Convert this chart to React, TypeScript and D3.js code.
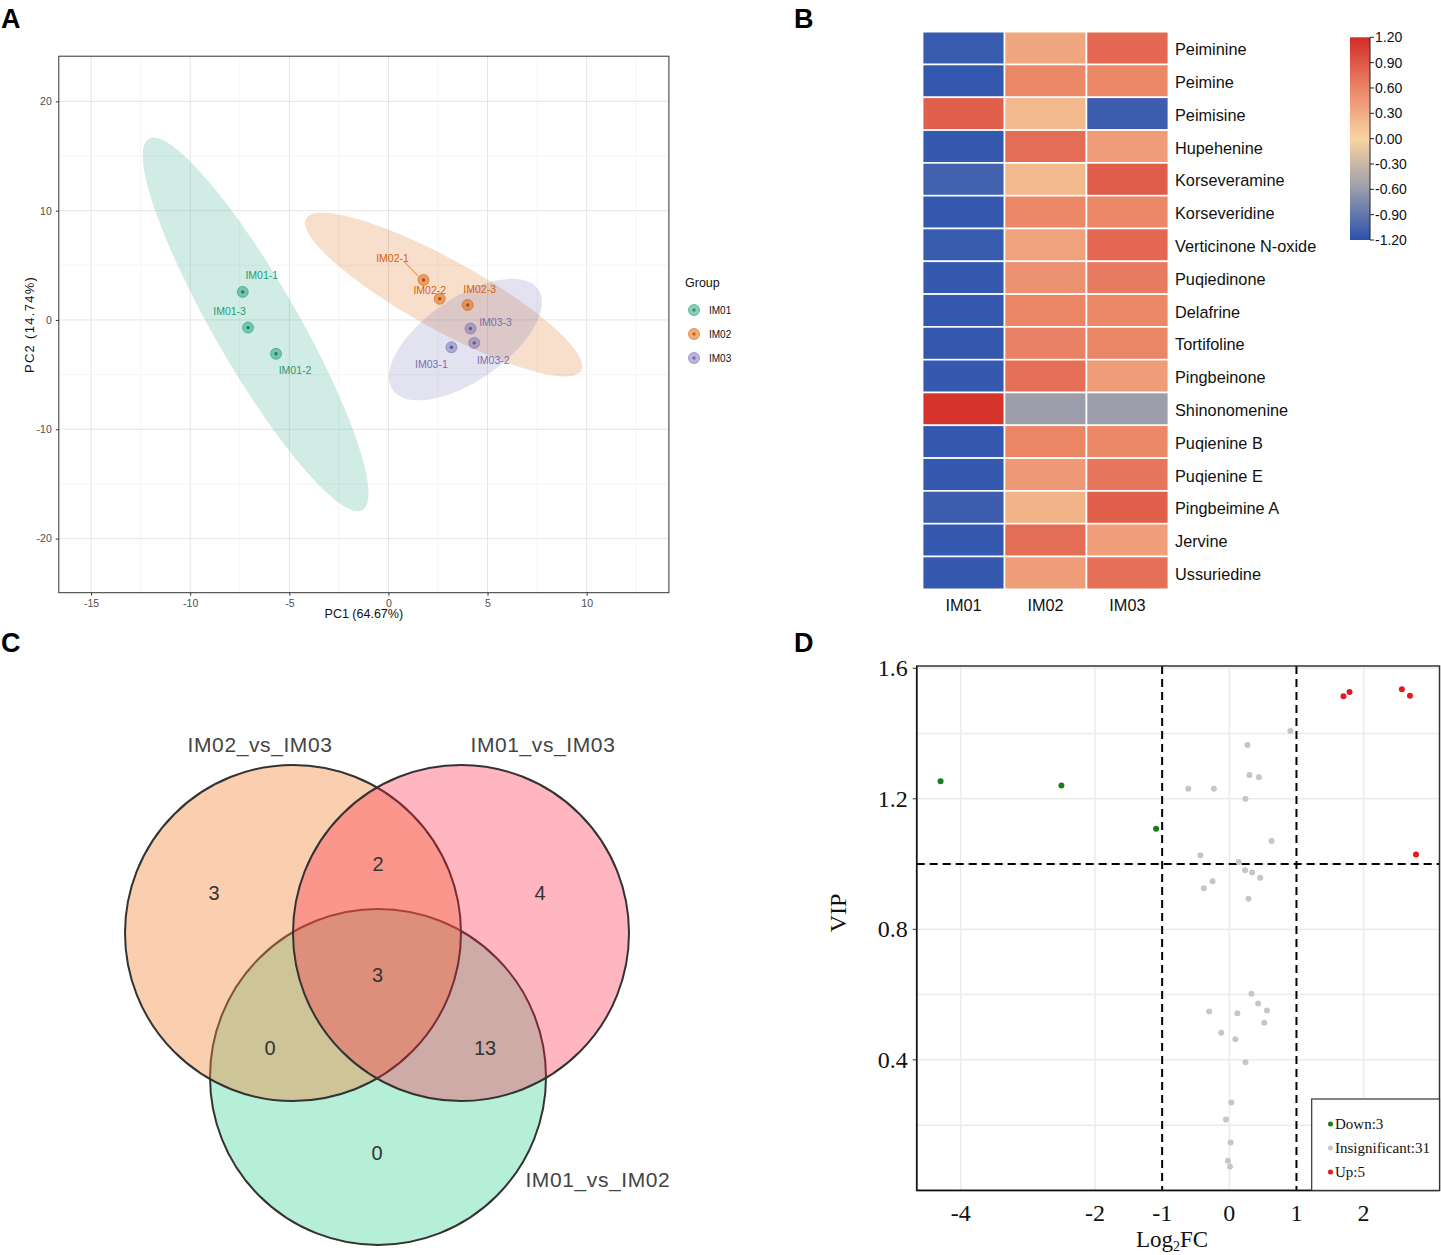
import * as d3 from 'd3';
import { useEffect, useRef } from 'react';

type G = d3.Selection<SVGGElement, unknown, null, undefined>;

const W = 1441;
const H = 1255;

// ---------- A: PCA score plot ----------
const pcaSamples = ['IM01-1', 'IM01-2', 'IM01-3', 'IM02-1', 'IM02-2', 'IM02-3', 'IM03-1', 'IM03-2', 'IM03-3'];
const pcaGroup = ['IM01', 'IM01', 'IM01', 'IM02', 'IM02', 'IM02', 'IM03', 'IM03', 'IM03'];
const pc1 = [-7.35, -5.67, -7.08, 1.77, 2.59, 4.0, 3.18, 4.33, 4.14];
const pc2 = [2.57, -3.09, -0.7, 3.66, 1.94, 1.37, -2.5, -2.1, -0.78];
const groups = ['IM01', 'IM02', 'IM03'];
const groupColors = ['#1b9e77', '#d95f02', '#7570b3'];
// confidence ellipse semi-axes (PC units)
const ellipseMajor = [[-5.39, 16.98], [6.94, -6.95], [3.67, 4.6]];
const ellipseMinor = [[1.84, 1.91], [0.855, 2.8], [1.19, -3.12]];
const pcaTicksX = [-15, -10, -5, 0, 5, 10];
const pcaTicksY = [-20, -10, 0, 10, 20];

// label nudges in px (repel layout)
const pcaLabelNudge = [[19, -16.5], [19, 16.2], [-18.5, -16.2], [-31, -22], [-10, -8.4], [12, -16], [-20, 17], [19, 17], [25, -6.6]];

// ---------- B: heatmap ----------
const compounds = [
  'Peiminine', 'Peimine', 'Peimisine', 'Hupehenine', 'Korseveramine', 'Korseveridine',
  'Verticinone N-oxide', 'Puqiedinone', 'Delafrine', 'Tortifoline', 'Pingbeinone',
  'Shinonomenine', 'Puqienine B', 'Puqienine E', 'Pingbeimine A', 'Jervine', 'Ussuriedine',
];
const heatGroups = ['IM01', 'IM02', 'IM03'];
const zIM01 = [-1.13, -1.15, 0.85, -1.14, -1.07, -1.15, -1.13, -1.14, -1.15, -1.15, -1.14, 1.15, -1.15, -1.14, -1.1, -1.14, -1.14];
const zIM02 = [0.35, 0.58, 0.2, 0.76, 0.2, 0.58, 0.38, 0.5, 0.6, 0.62, 0.74, -0.58, 0.6, 0.45, 0.25, 0.76, 0.42];
const zIM03 = [0.8, 0.58, -1.1, 0.42, 0.87, 0.58, 0.8, 0.66, 0.58, 0.6, 0.42, -0.58, 0.58, 0.7, 0.85, 0.4, 0.74];
const colorTicks = [1.2, 0.9, 0.6, 0.3, 0.0, -0.3, -0.6, -0.9, -1.2];

// ---------- C: Venn ----------
const vennSets = ['IM02_vs_IM03', 'IM01_vs_IM03', 'IM01_vs_IM02'];
const vennRegions = ['IM02_vs_IM03 only', 'IM02_vs_IM03 & IM01_vs_IM03', 'IM01_vs_IM03 only', 'all', 'IM02_vs_IM03 & IM01_vs_IM02', 'IM01_vs_IM03 & IM01_vs_IM02', 'IM01_vs_IM02 only'];
const vennCounts = [3, 2, 4, 3, 0, 13, 0];

// ---------- D: VIP vs log2FC ----------
const downFC = [-4.3, -2.5, -1.09];
const downVIP = [1.254, 1.241, 1.108];
const upFC = [1.7, 1.79, 2.57, 2.69, 2.78];
const upVIP = [1.514, 1.527, 1.536, 1.516, 1.029];
const nsFC = [0.91, 0.27, 0.3, 0.44, -0.61, -0.23, 0.24, 0.63, -0.43, 0.14, 0.235, 0.34, 0.46, -0.25, -0.38, 0.285,
  0.33, 0.43, -0.3, 0.12, 0.56, 0.52, -0.12, 0.09, 0.24, 0.03, -0.05, 0.02, -0.02, 0.01];
const nsVIP = [1.408, 1.365, 1.273, 1.266, 1.231, 1.231, 1.2, 1.071, 1.027, 1.006, 0.981, 0.974, 0.958, 0.947, 0.926, 0.894,
  0.603, 0.573, 0.548, 0.543, 0.551, 0.514, 0.483, 0.463, 0.393, 0.269, 0.217, 0.147, 0.091, 0.073];
const vipTicksY = [0.4, 0.8, 1.2, 1.6];
const fcTicks = [-4, -2, -1, 0, 1, 2];
const vipLegend = ['Down:3', 'Insignificant:31', 'Up:5'];

const SANS = "'Liberation Sans', Arial, sans-serif";
const NARROW = "'Liberation Sans Narrow', 'Arial Narrow', 'Liberation Sans', sans-serif";
const SERIF = "'Liberation Serif', 'Times New Roman', serif";

function drawPca(g: G) {
  const x = d3.scaleLinear().domain([-16.63, 14.15]).range([58.8, 668.9]);
  const y = d3.scaleLinear().domain([-24.95, 24.13]).range([592.7, 56.2]);
  const [x0, x1] = x.range();
  const [y0, y1] = y.range();

  const minorX = d3.range(-17.5, 15, 5).filter((v) => v > -16.63 && v < 14.15);
  const minorY = d3.range(-25, 26, 10).filter((v) => v > -24.95 && v < 24.13);

  // grid
  g.selectAll('.mx').data(minorX).join('line')
    .attr('x1', (d) => x(d)).attr('x2', (d) => x(d)).attr('y1', y1).attr('y2', y0)
    .attr('stroke', '#f3f3f3').attr('stroke-width', 0.8);
  g.selectAll('.my').data(minorY).join('line')
    .attr('y1', (d) => y(d)).attr('y2', (d) => y(d)).attr('x1', x0).attr('x2', x1)
    .attr('stroke', '#f3f3f3').attr('stroke-width', 0.8);
  g.selectAll('.gx').data(pcaTicksX).join('line')
    .attr('x1', (d) => x(d)).attr('x2', (d) => x(d)).attr('y1', y1).attr('y2', y0)
    .attr('stroke', '#e6e6e6').attr('stroke-width', 1);
  g.selectAll('.gy').data(pcaTicksY).join('line')
    .attr('y1', (d) => y(d)).attr('y2', (d) => y(d)).attr('x1', x0).attr('x2', x1)
    .attr('stroke', '#e6e6e6').attr('stroke-width', 1);

  // ellipses
  const line = d3.line<[number, number]>().curve(d3.curveLinearClosed);
  groups.forEach((grp, gi) => {
    const idx = pcaGroup.map((v, i) => (v === grp ? i : -1)).filter((i) => i >= 0);
    const cx = d3.mean(idx, (i) => pc1[i]) ?? 0;
    const cy = d3.mean(idx, (i) => pc2[i]) ?? 0;
    const M = ellipseMajor[gi];
    const m = ellipseMinor[gi];
    const pts = d3.range(0, 360, 2).map((deg) => {
      const t = (deg * Math.PI) / 180;
      return [
        x(cx + M[0] * Math.cos(t) + m[0] * Math.sin(t)),
        y(cy + M[1] * Math.cos(t) + m[1] * Math.sin(t)),
      ] as [number, number];
    });
    g.append('path').attr('d', line(pts)).attr('fill', groupColors[gi]).attr('fill-opacity', 0.2);
  });

  // label connectors + labels
  pcaSamples.forEach((s, i) => {
    const c = groupColors[groups.indexOf(pcaGroup[i])];
    const px = x(pc1[i]);
    const py = y(pc2[i]);
    const [dx, dy] = pcaLabelNudge[i];
    const len = Math.hypot(dx, dy);
    if (len > 30) {
      g.append('line')
        .attr('x1', px + (dx / len) * 6).attr('y1', py + (dy / len) * 6)
        .attr('x2', px + dx - (dx / len) * 14).attr('y2', py + dy - (dy / len) * 6)
        .attr('stroke', c).attr('stroke-width', 0.8);
    }
    g.append('text').text(s)
      .attr('x', px + dx).attr('y', py + dy)
      .attr('text-anchor', 'middle').attr('dominant-baseline', 'central')
      .attr('fill', c).attr('font-size', 10.5).attr('font-family', NARROW);
  });

  // points
  pcaSamples.forEach((_, i) => {
    const c = groupColors[groups.indexOf(pcaGroup[i])];
    g.append('circle').attr('cx', x(pc1[i])).attr('cy', y(pc2[i])).attr('r', 5.5)
      .attr('fill', c).attr('fill-opacity', 0.5).attr('stroke', c).attr('stroke-opacity', 0.6);
    g.append('circle').attr('cx', x(pc1[i])).attr('cy', y(pc2[i])).attr('r', 1.7)
      .attr('fill', d3.color(c)!.darker(0.6).toString());
  });

  // frame
  g.append('rect').attr('x', x0).attr('y', y1).attr('width', x1 - x0).attr('height', y0 - y1)
    .attr('fill', 'none').attr('stroke', '#333').attr('stroke-width', 1);

  // axes
  const ax = g.append('g').attr('transform', `translate(0,${y0})`)
    .call(d3.axisBottom(x).tickValues(pcaTicksX).tickSize(3).tickPadding(4).tickFormat((d) => String(d)));
  const ay = g.append('g').attr('transform', `translate(${x0},0)`)
    .call(d3.axisLeft(y).tickValues(pcaTicksY).tickSize(3).tickPadding(4).tickFormat((d) => String(d)));
  [ax, ay].forEach((a) => {
    a.select('.domain').remove();
    a.selectAll('line').attr('stroke', '#333');
    a.selectAll('text').attr('fill', '#4d4d4d').attr('font-size', 10.5).attr('font-family', NARROW);
  });

  g.append('text').text('PC1 (64.67%)')
    .attr('x', (x0 + x1) / 2).attr('y', 618).attr('text-anchor', 'middle')
    .attr('font-size', 12.5).attr('font-family', NARROW).attr('fill', '#111');
  g.append('text').text('PC2 (14.74%)')
    .attr('transform', `translate(34,${(y0 + y1) / 2}) rotate(-90)`).attr('text-anchor', 'middle')
    .attr('font-size', 13).attr('letter-spacing', 1.3).attr('font-family', SANS).attr('fill', '#111');

  // legend
  g.append('text').text('Group').attr('x', 685).attr('y', 283).attr('dominant-baseline', 'central')
    .attr('font-size', 12.5).attr('font-family', NARROW).attr('fill', '#111');
  groups.forEach((grp, gi) => {
    const cy = 310 + gi * 24;
    g.append('circle').attr('cx', 694).attr('cy', cy).attr('r', 5.5)
      .attr('fill', groupColors[gi]).attr('fill-opacity', 0.5).attr('stroke', groupColors[gi]).attr('stroke-opacity', 0.6);
    g.append('circle').attr('cx', 694).attr('cy', cy).attr('r', 1.7).attr('fill', groupColors[gi]);
    g.append('text').text(grp).attr('x', 709).attr('y', cy).attr('dominant-baseline', 'central')
      .attr('font-size', 10).attr('font-family', NARROW).attr('fill', '#111');
  });
}

function drawHeatmap(g: G) {
  const xb = d3.scaleBand().domain(heatGroups).range([922.6, 1168.4]);
  const yb = d3.scaleBand().domain(compounds).range([31.7, 589.3]);
  const color = d3.scaleLinear<string>()
    .domain([-1.2, -0.6, 0, 0.6, 1.2])
    .range(['#2a52ae', '#9a9bab', '#f8d4a2', '#ea8566', '#d42b26'])
    .clamp(true);
  const cols = [zIM01, zIM02, zIM03];

  compounds.forEach((cmp, i) => {
    heatGroups.forEach((grp, j) => {
      g.append('rect')
        .attr('x', xb(grp)!).attr('y', yb(cmp)!)
        .attr('width', xb.bandwidth()).attr('height', yb.bandwidth())
        .attr('fill', color(cols[j][i])).attr('stroke', '#fff').attr('stroke-width', 1.6);
    });
    g.append('text').text(cmp)
      .attr('x', 1175).attr('y', yb(cmp)! + yb.bandwidth() / 2 + 1)
      .attr('dominant-baseline', 'central')
      .attr('font-size', 16.3).attr('font-family', SANS).attr('fill', '#111');
  });
  heatGroups.forEach((grp) => {
    g.append('text').text(grp)
      .attr('x', xb(grp)! + xb.bandwidth() / 2).attr('y', 605)
      .attr('text-anchor', 'middle').attr('dominant-baseline', 'central')
      .attr('font-size', 16.3).attr('font-family', SANS).attr('fill', '#111');
  });

  // color bar
  const cy = d3.scaleLinear().domain([-1.2, 1.2]).range([240, 37.3]);
  const grad = g.append('defs').append('linearGradient').attr('id', 'heatGrad')
    .attr('x1', 0).attr('x2', 0).attr('y1', 1).attr('y2', 0);
  d3.range(-1.2, 1.2001, 0.1).forEach((v) => {
    grad.append('stop').attr('offset', (v + 1.2) / 2.4).attr('stop-color', color(v));
  });
  g.append('rect').attr('x', 1350).attr('y', cy(1.2)).attr('width', 20).attr('height', cy(-1.2) - cy(1.2))
    .attr('fill', 'url(#heatGrad)');
  g.append('line').attr('x1', 1370).attr('x2', 1370).attr('y1', cy(1.2)).attr('y2', cy(-1.2))
    .attr('stroke', '#222').attr('stroke-width', 1);
  colorTicks.forEach((v) => {
    g.append('line').attr('x1', 1370).attr('x2', 1374).attr('y1', cy(v)).attr('y2', cy(v))
      .attr('stroke', '#222').attr('stroke-width', 1);
    g.append('text').text(v.toFixed(2))
      .attr('x', 1375).attr('y', cy(v)).attr('dominant-baseline', 'central')
      .attr('font-size', 14).attr('font-family', SANS).attr('fill', '#111');
  });
}

function drawVenn(g: G) {
  const u = d3.scaleLinear().domain([0, 1]).range([0, 168]);
  const ox = 377;
  const oy = 933;
  const centers = [[-0.5, 0], [0.5, 0], [0.006, 0.857]];
  const fills = ['#f0873a', '#ff2243', '#48d79e'];
  const opac = [0.4, 0.33, 0.4];
  // draw bottom circle first, then left, then right
  [2, 0, 1].forEach((k) => {
    g.append('circle')
      .attr('cx', ox + u(centers[k][0])).attr('cy', oy + u(centers[k][1])).attr('r', u(1))
      .attr('fill', fills[k]).attr('fill-opacity', opac[k])
      .attr('stroke', '#333').attr('stroke-width', 2);
  });

  const setPos = [[-0.696, -1.125], [0.988, -1.125], [1.315, 1.47]];
  vennSets.forEach((s, k) => {
    g.append('text').text(s)
      .attr('x', ox + u(setPos[k][0])).attr('y', oy + u(setPos[k][1]))
      .attr('text-anchor', 'middle').attr('dominant-baseline', 'central')
      .attr('font-size', 21).attr('letter-spacing', 0.6).attr('font-family', SANS).attr('fill', '#444');
  });

  const regionPos = [[-0.97, -0.238], [0.006, -0.41], [0.97, -0.238], [0.003, 0.25], [-0.637, 0.685], [0.643, 0.685], [0, 1.31]];
  vennRegions.forEach((_, r) => {
    g.append('text').text(String(vennCounts[r]))
      .attr('x', ox + u(regionPos[r][0])).attr('y', oy + u(regionPos[r][1]))
      .attr('text-anchor', 'middle').attr('dominant-baseline', 'central')
      .attr('font-size', 20).attr('font-family', SANS).attr('fill', '#333');
  });
}

function drawVip(g: G) {
  const x = d3.scaleLinear().domain([-4.655, 3.13]).range([916.7, 1439.5]);
  const y = d3.scaleLinear().domain([0, 1.607]).range([1190.4, 666]);
  const [x0, x1] = x.range();
  const [y0, y1] = y.range();

  const gridY = d3.range(0.2, 1.61, 0.2);
  const gridX = [-4, -2, 0, 2];
  g.selectAll('.gy').data(gridY).join('line')
    .attr('x1', x0).attr('x2', x1).attr('y1', (d) => y(d)).attr('y2', (d) => y(d))
    .attr('stroke', '#ebebeb').attr('stroke-width', 1.5);
  g.selectAll('.gx').data(gridX).join('line')
    .attr('y1', y1).attr('y2', y0).attr('x1', (d) => x(d)).attr('x2', (d) => x(d))
    .attr('stroke', '#ebebeb').attr('stroke-width', 1.5);

  // thresholds
  [-1, 1].forEach((v) => {
    g.append('line').attr('x1', x(v)).attr('x2', x(v)).attr('y1', y1).attr('y2', y0)
      .attr('stroke', '#000').attr('stroke-width', 2).attr('stroke-dasharray', '8,5');
  });
  g.append('line').attr('x1', x0).attr('x2', x1).attr('y1', y(1)).attr('y2', y(1))
    .attr('stroke', '#000').attr('stroke-width', 2).attr('stroke-dasharray', '8,5');

  const dots = (fc: number[], vip: number[], c: string) => {
    fc.forEach((v, i) => {
      g.append('circle').attr('cx', x(v)).attr('cy', y(vip[i])).attr('r', 3).attr('fill', c);
    });
  };
  dots(nsFC, nsVIP, '#c6c6c6');
  dots(downFC, downVIP, '#1a7d1a');
  dots(upFC, upVIP, '#e41a1c');

  // frame
  g.append('rect').attr('x', x0).attr('y', y1).attr('width', x1 - x0).attr('height', y0 - y1)
    .attr('fill', 'none').attr('stroke', '#333').attr('stroke-width', 1.5);
  g.append('line').attr('x1', x0).attr('x2', x0).attr('y1', y1).attr('y2', y0).attr('stroke', '#111').attr('stroke-width', 1.5);
  g.append('line').attr('x1', x0).attr('x2', x1).attr('y1', y0).attr('y2', y0).attr('stroke', '#111').attr('stroke-width', 1.5);

  vipTicksY.forEach((v) => {
    g.append('line').attr('x1', x0 - 4).attr('x2', x0).attr('y1', y(v)).attr('y2', y(v)).attr('stroke', '#333');
    g.append('text').text(v.toFixed(1))
      .attr('x', x0 - 9).attr('y', y(v)).attr('text-anchor', 'end').attr('dominant-baseline', 'central')
      .attr('font-size', 24).attr('font-family', SERIF).attr('fill', '#111');
  });
  fcTicks.forEach((v) => {
    g.append('text').text(String(v))
      .attr('x', x(v)).attr('y', 1213).attr('text-anchor', 'middle').attr('dominant-baseline', 'central')
      .attr('font-size', 24).attr('font-family', SERIF).attr('fill', '#111');
  });

  g.append('text').text('VIP')
    .attr('transform', `translate(846,913) rotate(-90)`).attr('text-anchor', 'middle')
    .attr('font-size', 24).attr('font-family', SERIF).attr('fill', '#111');
  const t = g.append('text').attr('x', (x0 + x1) / 2 - 6).attr('y', 1247).attr('text-anchor', 'middle')
    .attr('font-size', 23).attr('font-family', SERIF).attr('fill', '#111');
  t.append('tspan').text('Log');
  t.append('tspan').text('2').attr('font-size', 14).attr('dy', 4);
  t.append('tspan').text('FC').attr('dy', -4);

  // legend
  g.append('rect').attr('x', 1311.7).attr('y', 1099).attr('width', x1 - 1311.7).attr('height', y0 - 1099)
    .attr('fill', '#fff').attr('stroke', '#333').attr('stroke-width', 1.2);
  const legColors = ['#1a7d1a', '#c6c6c6', '#e41a1c'];
  vipLegend.forEach((lab, i) => {
    const ly = 1124 + i * 24;
    g.append('circle').attr('cx', 1330.5).attr('cy', ly).attr('r', 2.5).attr('fill', legColors[i]);
    g.append('text').text(lab).attr('x', 1335).attr('y', ly).attr('dominant-baseline', 'central')
      .attr('font-size', 15).attr('font-family', SERIF).attr('fill', '#111');
  });
}

export default function App() {
  const ref = useRef<SVGSVGElement>(null);

  useEffect(() => {
    if (!ref.current) return;
    const svg = d3.select(ref.current);
    svg.selectAll('*').remove();
    svg.append('rect').attr('width', W).attr('height', H).attr('fill', '#fff');

    drawPca(svg.append('g'));
    drawHeatmap(svg.append('g'));
    drawVenn(svg.append('g'));
    drawVip(svg.append('g'));

    // panel letters
    const letters: [string, number, number][] = [['A', 1, 28], ['B', 794, 28], ['C', 1, 652], ['D', 794, 652]];
    letters.forEach(([l, lx, ly]) => {
      svg.append('text').text(l).attr('x', lx).attr('y', ly)
        .attr('font-size', 27).attr('font-weight', 'bold').attr('font-family', SANS).attr('fill', '#000');
    });
  }, []);

  return (
    <svg
      ref={ref}
      width={W}
      height={H}
      style={{ position: 'absolute', left: 0, top: 0, display: 'block' }}
    />
  );
}
